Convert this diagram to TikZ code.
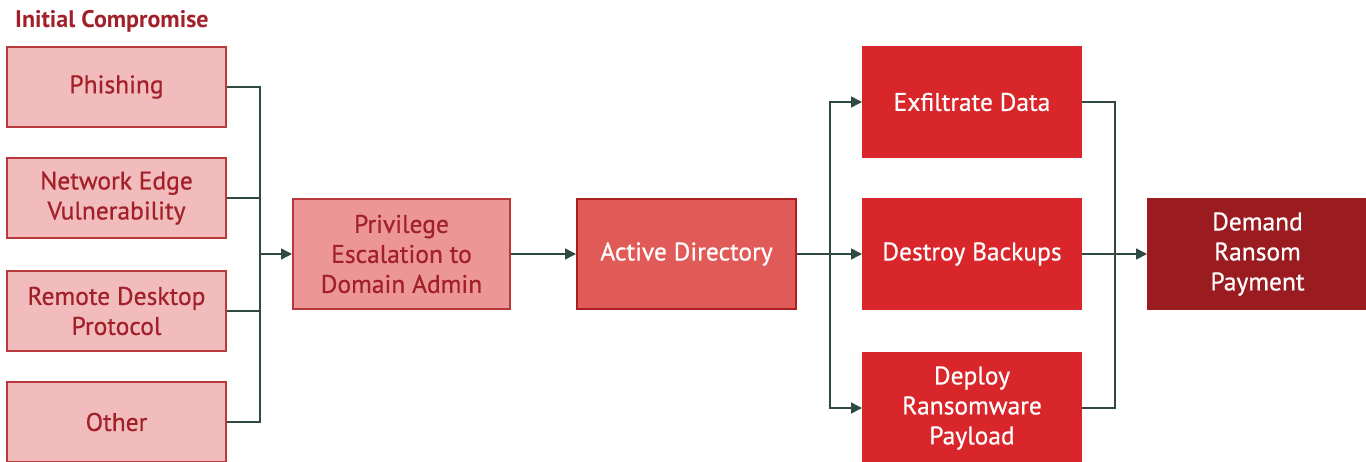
\documentclass[tikz,border=0pt]{standalone}
\usepackage{fontspec}
\setmainfont{PT Sans}[RawFeature={embolden=0.6}]
\newfontfamily\titlefont{PT Sans Bold}
\usetikzlibrary{arrows.meta}
\definecolor{lpink}{HTML}{F2BCBC}
\definecolor{mpink}{HTML}{EC9696}
\definecolor{adred}{HTML}{E05A57}
\definecolor{bred}{HTML}{D8262B}
\definecolor{dred}{HTML}{9A1C20}
\definecolor{txtred}{HTML}{A2202A}
\definecolor{edgered}{HTML}{B8383C}
\definecolor{linecol}{HTML}{2E4A42}
\tikzset{
  box/.style={draw=edgered, line width=2pt, inner sep=0pt, align=center,
    font=\fontsize{25.5}{30}\selectfont},
  ibox/.style={box, fill=lpink, text=txtred, minimum width=219pt, minimum height=80pt},
  pbox/.style={box, fill=mpink, text=txtred, minimum width=217pt, minimum height=110pt},
  abox/.style={box, fill=adred, draw=bred!80!black, text=white, minimum width=219pt, minimum height=110pt},
  rbox/.style={box, fill=bred, draw=bred, text=white, minimum width=218pt, minimum height=110pt},
  dbox/.style={box, fill=dred, draw=dred, text=white, minimum width=219pt, minimum height=110pt},
  conn/.style={draw=linecol, line width=1.5pt},
  arr/.style={conn, -{Triangle[length=11pt,width=11pt]}},
}
\begin{document}
\begin{tikzpicture}[x=1pt,y=-1pt]
\useasboundingbox (0,0) rectangle (1366,461);
\clip (0,0) rectangle (1366,461);
\fill[white] (0,0) rectangle (1366,461);
\node[anchor=west, text=txtred, inner sep=0pt, font=\fontsize{24}{28}\titlefont] (title) at (15,21) {Initial Compromise};
\node[ibox] (ph) at (116.5,87) {Phishing};
\node[ibox] (ne) at (116.5,198) {Network Edge\\Vulnerability};
\node[ibox] (rd) at (116.5,311) {Remote Desktop\\Protocol};
\node[ibox] (ot) at (116.5,422) {Other};
\node[pbox] (pr) at (401.5,254) {Privilege\\Escalation to\\Domain Admin};
\node[abox] (ad) at (686.5,254) {Active Directory};
\node[rbox] (ex) at (972,102) {Exfiltrate Data};
\node[rbox] (de) at (972,254) {Destroy Backups};
\node[rbox] (dp) at (972,408) {Deploy\\Ransomware\\Payload};
\node[dbox] (dm) at (1257.5,254) {Demand\\Ransom\\Payment};
\coordinate (j1) at (260,254);
\coordinate (j2) at (830,254);
\coordinate (j3) at (1115,254);
\draw[conn] (ph.east) -| (j1);
\draw[conn] (ne.east) -| (j1);
\draw[conn] (rd.east) -| (j1);
\draw[conn] (ot.east) -| (j1);
\draw[arr] (j1) -- (pr.west);
\draw[arr] (pr.east) -- (ad.west);
\draw[conn] (ad.east) -- (j2);
\draw[arr] (j2) |- (ex.west);
\draw[arr] (j2) -- (de.west);
\draw[arr] (j2) |- (dp.west);
\draw[conn] (ex.east) -| (j3);
\draw[conn] (dp.east) -| (j3);
\draw[arr] (de.east) -- (dm.west);
\end{tikzpicture}
\end{document}
